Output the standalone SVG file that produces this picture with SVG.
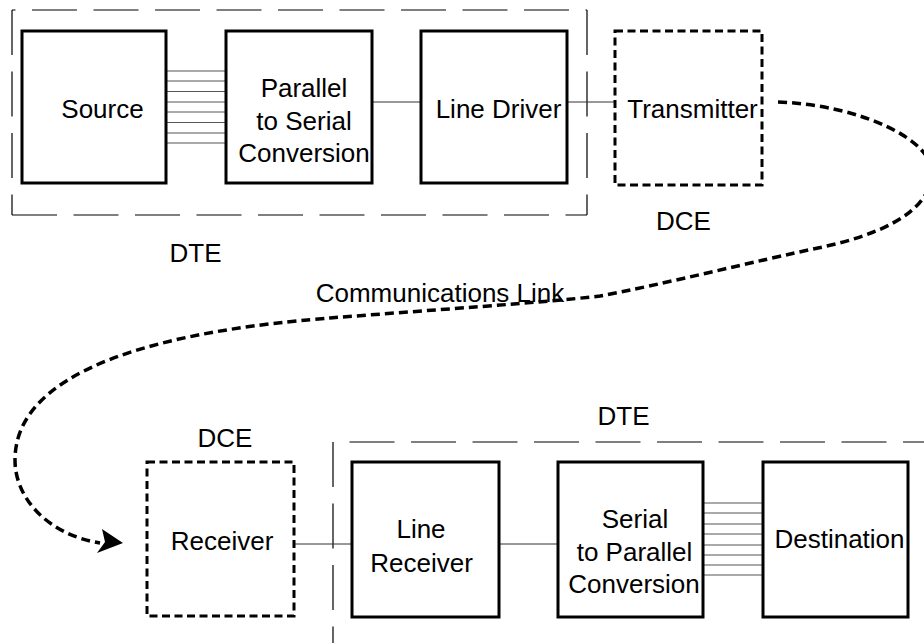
<svg xmlns="http://www.w3.org/2000/svg" width="924" height="643" viewBox="0 0 924 643">
<style>
text{font-family:"Liberation Sans",Arial,sans-serif;font-size:26px;fill:#000;text-anchor:middle}
.box{fill:#fff;stroke:#000;stroke-width:3}
.dce{fill:#fff;stroke:#000;stroke-width:3;stroke-dasharray:8 4.5}
.grp{fill:none;stroke:#000;stroke-width:1.2;stroke-dasharray:45 16.5}
.wire{stroke:#333;stroke-width:1;fill:none}
.bus{stroke:#555;stroke-width:1;fill:none}
.link{fill:none;stroke:#000;stroke-width:3.5;stroke-dasharray:9 5}
</style>
<g id="dte-top-frame">
<line class="grp" x1="12" y1="10" x2="587" y2="10" stroke-dashoffset="41.5"/>
<line class="grp" x1="12" y1="10" x2="12" y2="215"/>
<line class="grp" x1="587" y1="10" x2="587" y2="215"/>
<line class="grp" x1="12" y1="215" x2="587" y2="215"/>
</g>
<g id="dte-bottom-frame">
<line class="grp" x1="333" y1="442" x2="960" y2="442" stroke-dashoffset="45"/>
<line class="grp" x1="333" y1="442" x2="333" y2="660"/>
</g>
<g id="connectors">
<g class="bus">
<line x1="166" y1="71" x2="226" y2="71"/><line x1="166" y1="81" x2="226" y2="81"/>
<line x1="166" y1="91.5" x2="226" y2="91.5"/><line x1="166" y1="102" x2="226" y2="102"/>
<line x1="166" y1="112" x2="226" y2="112"/><line x1="166" y1="122.5" x2="226" y2="122.5"/>
<line x1="166" y1="133" x2="226" y2="133"/><line x1="166" y1="143" x2="226" y2="143"/>
<line x1="703" y1="503" x2="763" y2="503"/><line x1="703" y1="513" x2="763" y2="513"/>
<line x1="703" y1="524" x2="763" y2="524"/><line x1="703" y1="534" x2="763" y2="534"/>
<line x1="703" y1="545" x2="763" y2="545"/><line x1="703" y1="555" x2="763" y2="555"/>
<line x1="703" y1="565" x2="763" y2="565"/><line x1="703" y1="575" x2="763" y2="575"/>
</g>
<line class="wire" x1="372" y1="102" x2="421" y2="102"/>
<line class="wire" x1="567" y1="102" x2="615" y2="102"/>
<line class="wire" x1="294" y1="544" x2="352" y2="544"/>
<line class="wire" x1="499" y1="544" x2="558" y2="544"/>
<path class="link" d="M778,102 C860,105 935,140 932,175 C928,215 875,236 818,248 C760,260 660,285 600,296 C540,303 430,310 330,318 C230,326 15,350 15,460 C15,500 50,535 100,543"/>
<polygon points="123,543 97,553 105,542 102,529" fill="#000"/>
</g>
<g id="source"><rect class="box" x="22" y="31" width="144" height="152"/><text x="102.5" y="118">Source</text></g>
<g id="p2s"><rect class="box" x="226" y="31" width="146" height="152"/><text x="304" y="97">Parallel</text><text x="304" y="129.5">to Serial</text><text x="304" y="162">Conversion</text></g>
<g id="line-driver"><rect class="box" x="421" y="31" width="146" height="152"/><text x="498.5" y="118">Line Driver</text></g>
<g id="transmitter"><rect class="dce" x="615" y="31" width="147" height="154"/><text x="692.5" y="118">Transmitter</text></g>
<g id="receiver"><rect class="dce" x="147" y="462" width="147" height="154"/><text x="222" y="550">Receiver</text></g>
<g id="line-receiver"><rect class="box" x="352" y="462" width="147" height="155"/><text x="421" y="538">Line</text><text x="421.5" y="572">Receiver</text></g>
<g id="s2p"><rect class="box" x="558" y="462" width="145" height="155"/><text x="635" y="528">Serial</text><text x="634.5" y="560.5">to Parallel</text><text x="634" y="593">Conversion</text></g>
<g id="destination"><rect class="box" x="763" y="462" width="145" height="155"/><text x="839.5" y="548">Destination</text></g>
<g id="labels">
<text x="195.5" y="262">DTE</text>
<text x="683.5" y="230">DCE</text>
<text x="440" y="302">Communications Link</text>
<text x="225" y="447">DCE</text>
<text x="623.5" y="425">DTE</text>
</g>
</svg>
